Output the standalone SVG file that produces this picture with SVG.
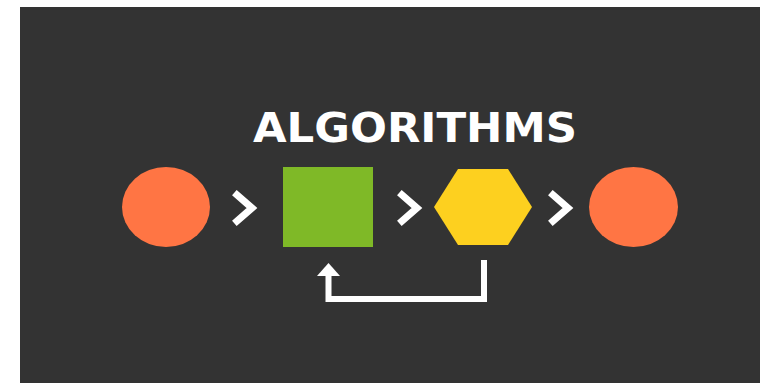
<svg xmlns="http://www.w3.org/2000/svg" width="760" height="383" viewBox="0 0 760 383">
<style>
.chev{fill:none;stroke:#FFFFFF;stroke-width:7;stroke-linecap:square;stroke-linejoin:miter}
.link{fill:none;stroke:#FFFFFF;stroke-width:6}
.title{font-family:"DejaVu Sans","Liberation Sans",sans-serif;font-weight:bold;fill:#FFFFFF}
</style>
<rect x="0" y="0" width="760" height="383" fill="#FFFFFF"/>
<rect x="20" y="7" width="740" height="376" fill="#333333"/>
<text class="title" x="253" y="142" font-size="41" textLength="324" lengthAdjust="spacingAndGlyphs">ALGORITHMS</text>
<g id="start"><ellipse cx="166" cy="207" rx="44" ry="40" fill="#FF7544"/></g>
<g id="process"><rect x="283" y="167" width="90" height="80" fill="#7FB927"/></g>
<g id="decision"><polygon points="434,207 458,169 508,169 532,207 508,245 458,245" fill="#FDD01F"/></g>
<g id="end"><ellipse cx="633.5" cy="207" rx="44.5" ry="40" fill="#FF7544"/></g>
<g id="connectors">
<polyline class="chev" points="237,195 252,208 237,221"/>
<polyline class="chev" points="402,195 417,208 402,221"/>
<polyline class="chev" points="553,195 568,208 553,221"/>
<path class="link" d="M484,260 V299 H328.5 V275"/>
<polygon points="317,276 328.5,263 340,276" fill="#FFFFFF"/>
</g>
</svg>
